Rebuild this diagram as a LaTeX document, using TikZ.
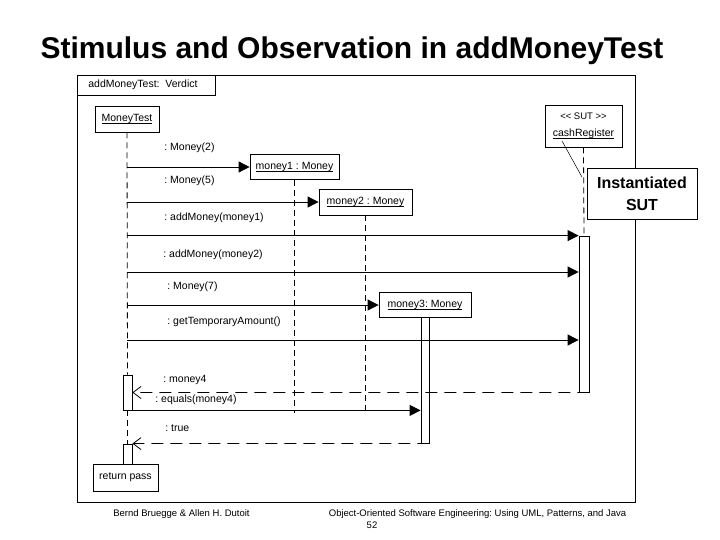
\documentclass[tikz,border=0pt]{standalone}
\usepackage{fontspec}
\setmainfont{Liberation Sans}
\usetikzlibrary{arrows.meta}
\newcommand\objul[1]{\setbox0\hbox{#1}\rlap{\rule[-1.8pt]{\wd0}{0.6pt}}\box0}
\frenchspacing
\begin{document}
\begin{tikzpicture}[x=1pt,y=-1pt,line width=0.8pt,
  txt/.style={font=\fontsize{10.5}{12.5}\selectfont},
  box/.style={draw,fill=white,inner sep=0pt,txt},
  lbl/.style={anchor=west,inner sep=0pt,txt},
  life/.style={dash pattern=on 6pt off 4pt},
  call/.style={-{Triangle[length=11pt,width=11pt]}},
  ret/.style={dash pattern=on 12pt off 7pt,-{Straight Barb[length=8pt,width=12pt]}},
  act/.style={draw,fill=white,inner sep=0pt},
  foot/.style={inner sep=0pt,font=\fontsize{9.5}{11}\selectfont}]
\useasboundingbox (0,0) rectangle (720,540);
% title
\node[font=\fontsize{30}{36}\selectfont\bfseries] (title) at (352,51) {Stimulus and Observation in addMoneyTest};
% frame
\draw (77,75) rectangle (635,502);
\node[draw,anchor=north west,inner sep=0pt,minimum width=138pt,minimum height=20pt] (tab) at (77,75) {};
\node[lbl] (tabtxt) at (88,85) {addMoneyTest:\ \ Verdict};
% object boxes
\node[box,minimum width=64pt,minimum height=26pt] (mt) at (127,119) {\objul{MoneyTest}};
\node[box,minimum width=77pt,minimum height=42pt,align=center] (cr) at (583.5,126)
  {{\fontsize{9.5}{11}\selectfont \textless\kern0pt\textless\ SUT \textgreater\kern0pt\textgreater}\\[4pt]\objul{cashRegister}};
\node[box,minimum width=89pt,minimum height=25pt] (m1) at (294.5,167) {\objul{money1 : Money}};
\node[box,minimum width=93pt,minimum height=26pt] (m2) at (365.5,202) {\objul{money2 : Money}};
\node[box,minimum width=92pt,minimum height=25pt] (m3) at (425,305) {\objul{money3: Money}};
\node[box,minimum width=110pt,minimum height=51pt,align=center,font=\fontsize{16}{22}\selectfont\bfseries] (note) at (642,193.5) {Instantiated\\SUT};
% activations
\node[act,minimum width=10pt,minimum height=156pt] (a1) at (584,314) {};
\node[act,minimum width=8pt,minimum height=126pt] (a2) at (425,380) {};
\node[act,minimum width=9pt,minimum height=35pt] (a3) at (127.5,392.5) {};
\node[act,minimum width=9pt,minimum height=20pt] (a4) at (127.5,454) {};
\node[box,minimum width=65pt,minimum height=27pt] (rp) at (125.5,477.5) {return pass};
% lifelines
\coordinate (end) at (0,413);
\draw[life] (mt.south) -- (a3.north);
\draw[life] (a3.south) -- (a4.north);
\draw[life] (m1.south) -- (m1.south |- end);
\draw[life] (m2.south) -- (m2.south |- end);
\draw[life] (cr.south) -- (a1.north);
% note anchor
\coordinate (na) at (562,141);
\coordinate (nb) at (582,177);
\draw[line width=0.5pt] (na) -- (nb);
% message rows
\coordinate (r4) at (0,272);
\coordinate (r6) at (0,340);
% calls
\draw[call] (mt.south |- m1.west) -- (m1.west);
\draw[call] (mt.south |- m2.west) -- (m2.west);
\draw[call] (mt.south |- a1.north west) -- (a1.north west);
\draw[call] (mt.south |- r4) -- (a1.west |- r4);
\draw[call] (mt.south |- m3.west) -- (m3.west);
\draw[call] (mt.south |- r6) -- (a1.west |- r6);
\draw[call] (a3.south west) -- (a2.west |- a3.south);
% returns
\draw[ret] (a1.south east) -- (a3.east);
\draw[ret] (a2.south east) -- (a4.north east);
% labels
\node[lbl] (l1) at (164,148) {: Money(2)};
\node[lbl] (l2) at (164,181) {: Money(5)};
\node[lbl] (l3) at (164,218) {: addMoney(money1)};
\node[lbl] (l4) at (163,255) {: addMoney(money2)};
\node[lbl] (l5) at (167,287) {: Money(7)};
\node[lbl] (l6) at (167,322) {: getTemporaryAmount()};
\node[lbl] (l7) at (163,380) {: money4};
\node[lbl] (l8) at (155,400) {: equals(money4)};
\node[lbl] (l9) at (165,428) {: true};
% footer
\node[foot] (f1) at (181.5,514) {Bernd Bruegge \& Allen H. Dutoit};
\node[foot] (f2) at (477.5,514) {Object-Oriented Software Engineering: Using UML, Patterns, and Java};
\node[foot] (f3) at (372,525) {52};
\end{tikzpicture}
\end{document}
